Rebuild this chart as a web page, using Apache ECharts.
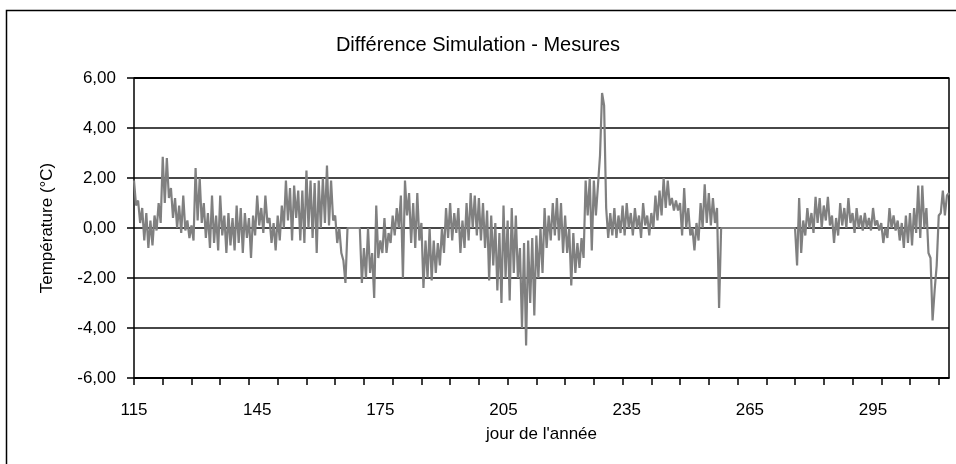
<!DOCTYPE html>
<html>
<head>
<meta charset="utf-8">
<script src="https://cdn.jsdelivr.net/npm/echarts@6/dist/echarts.min.js"></script>
<style>
  html, body { margin: 0; padding: 0; background: #fff; }
  #chart { width: 956px; height: 464px; }
</style>
</head>
<body>
<div id="chart"></div>
<script>
// jour de l'année du premier point, pas de 0,5 jour
const startDay = 115;
const stepDay = 0.5;
const lastDay = 313.5;

// graduations de l'axe des x
const labelDays = [115, 145, 175, 205, 235, 265, 295];
const tickDays = [115, 122, 129, 136, 143, 150, 157, 164, 171, 178, 185, 192, 199, 206, 213,
  220, 227, 234, 241, 248, 255, 262, 269, 276, 283, 290, 297, 304, 311];

// écart simulation - mesures (°C), deux valeurs par jour
const diff = [
  1.9, 0.9, 1.1, 0.2, 0.8, -0.5, 0.6, -0.8, 0.3, -0.7, 0.5, -0.1, 1.0, 0.2, 2.85, 1.0, 2.8, 1.2, 1.6, 0.4,
  1.2, 0.0, 0.9, -0.2, 1.3, -0.1, 0.3, -0.4, 0.1, -0.5, 2.4, 0.3, 2.0, 0.2, 1.0, -0.4, 0.6, -0.8, 1.3, -0.6,
  0.5, -0.9, 1.3, -0.3, 0.5, -1.0, 0.6, -0.7, 0.4, -0.9, 0.9, -0.6, 0.8, -1.0, 0.6, -0.4, 0.4, -1.2, 0.5, -0.3,
  1.3, 0.1, 0.8, -0.2, 1.3, 0.2, 0.4, -0.6, 0.2, -0.9, 0.5, -0.5, 0.9, 0.0, 1.9, 0.3, 1.6, -0.5, 1.7, 0.4,
  1.5, -0.5, 1.5, -0.6, 2.3, 0.0, 1.9, -0.4, 1.8, -1.0, 1.9, 0.0, 2.0, 0.2, 2.5, 0.1, 1.9, 0.3, 0.5, -0.6,
  0.0, -1.0, -1.3, -2.2, 0, 0, 0, 0, 0, 0, 0, -2.2, -0.8, -2.0, 0.0, -1.8, -1.0, -2.8, 0.9, -1.2,
  -0.5, -1.0, 0.4, -1.0, -0.2, -0.6, 0.5, -0.3, 0.8, 0.0, 1.3, -2.0, 1.9, 0.5, 1.4, -0.6, 1.0, -0.8, 1.4, -0.5,
  0.2, -2.4, -0.5, -2.0, 0.0, -2.1, -0.5, -1.8, -0.6, -1.5, 0.0, -1.0, 0.8, -0.4, 1.0, -0.5, 0.6, -0.2, 0.8, -1.0,
  0.3, -0.8, 1.0, -0.5, 1.4, 0.0, 1.3, -0.3, 1.2, -0.5, 1.0, -0.8, 0.7, -2.1, 0.5, -1.5, 0.2, -2.5, -0.2, -3.0,
  0.9, -2.0, 0.3, -2.9, 0.8, -1.8, 0.5, -2.0, -0.8, -4.0, -0.6, -4.7, -0.5, -3.0, -0.4, -3.5, -0.3, -2.0, 0.0, -1.8,
  0.8, -0.8, 0.5, -0.5, 1.0, -0.3, 1.2, -0.5, 1.0, -1.0, 0.5, -1.0, 0.0, -2.3, -0.2, -1.8, -0.6, -1.6, -0.4, -1.2,
  1.9, 0.5, 2.0, -0.9, 1.9, 0.5, 1.7, 2.9, 5.4, 4.9, 0.8, -0.4, 0.6, -0.3, 0.8, -0.4, 0.5, -0.2, 0.9, -0.3,
  1.0, 0.0, 0.6, -0.3, 0.8, 0.0, 0.5, -0.4, 1.0, 0.1, 0.5, -0.3, 0.6, 0.0, 1.3, 0.3, 1.5, 0.5, 2.0, 0.8,
  1.9, 0.9, 1.2, 0.7, 1.1, 0.7, 1.0, -0.3, 1.6, 0.0, 0.8, -0.3, 0.0, -0.9, 0.2, -0.5, 1.0, 0.0, 1.75, 0.2,
  1.4, 0.1, 1.2, 0.2, 0.8, -3.2, 0, 0, 0, 0, 0, 0, 0, 0, 0, 0, 0, 0, 0, 0,
  0, 0, 0, 0, 0, 0, 0, 0, 0, 0, 0, 0, 0, 0, 0, 0, 0, 0, 0, 0,
  0, 0, 0, -1.5, 1.2, -1.0, 0.3, -0.3, 0.8, 0.0, 0.6, -0.2, 1.25, 0.2, 1.2, 0.0, 0.9, 0.3, 1.25, 0.1,
  0.5, -0.6, 0.4, -0.3, 1.0, 0.1, 0.8, 0.0, 1.2, 0.2, 0.6, -0.2, 0.8, 0.0, 0.5, -0.1, 0.6, 0.0, 0.4, -0.1,
  0.8, 0.1, 0.3, -0.1, 0.2, -0.6, 0.0, -0.4, 0.8, 0.0, 0.5, -0.1, 0.3, -0.5, 0.2, -0.8, 0.5, -0.6, 0.6, -0.7,
  0.8, -0.2, 1.7, -0.4, 1.7, 0.0, 0.8, -1.0, -1.2, -3.7, -2.5, -1.5, 0.5, 0.6, 1.5, 0.5, 1.3, 1.4
];

const font = 'Liberation Sans, Arial, sans-serif';
const fmt = (v) => v.toFixed(2).replace('.', ',');

const chart = echarts.init(document.getElementById('chart'), null, { renderer: 'canvas' });

chart.setOption({
  animation: false,
  backgroundColor: '#fff',
  title: {
    text: 'Différence Simulation - Mesures',
    left: 'center',
    top: 30,
    textStyle: { fontFamily: font, fontSize: 20, fontWeight: 'normal', color: '#000' }
  },
  // cadre extérieur, coupé à droite et en bas comme sur l'original
  graphic: [{
    type: 'polyline',
    shape: { points: [[6.5, 1200], [6.5, 10.5], [1200, 10.5]] },
    style: { stroke: '#000', lineWidth: 1.5 },
    silent: true
  }],
  grid: { left: 134, right: 7, top: 78, bottom: 86 },
  xAxis: {
    type: 'value',
    min: startDay, max: lastDay,
    name: "jour de l'année",
    nameLocation: 'middle',
    nameGap: 48,
    nameTextStyle: { fontFamily: font, fontSize: 17, color: '#000' },
    axisLine: { show: true, onZero: false, lineStyle: { color: '#000', width: 1.5 } },
    axisTick: { show: true, length: 7, customValues: tickDays, lineStyle: { color: '#000', width: 1.5 } },
    axisLabel: { fontFamily: font, fontSize: 17, color: '#000', margin: 24, customValues: labelDays },
    splitLine: { show: false }
  },
  yAxis: [
    {
      type: 'value',
      min: -6, max: 6, interval: 2,
      name: 'Température (°C)',
      nameLocation: 'middle',
      nameGap: 78,
      nameTextStyle: { fontFamily: font, fontSize: 17, color: '#000' },
      axisLine: { show: true, onZero: false, lineStyle: { color: '#000', width: 1.5 } },
      axisTick: { show: true, length: 7, lineStyle: { color: '#000', width: 1.5 } },
      axisLabel: { fontFamily: font, fontSize: 17, color: '#000', margin: 18, formatter: fmt },
      splitLine: {
        show: true,
        lineStyle: {
          color: ['#000', '#474747', '#474747', '#474747', '#474747', '#474747', '#000'],
          width: 2
        }
      }
    },
    {
      // bord droit de la zone de tracé
      type: 'value',
      min: -6, max: 6, interval: 2,
      position: 'right',
      axisLine: { show: true, onZero: false, lineStyle: { color: '#000', width: 1.5 } },
      axisTick: { show: false },
      axisLabel: { show: false },
      splitLine: { show: false }
    }
  ],
  series: [{
    type: 'line',
    data: diff.map((v, i) => [startDay + i * stepDay, v]),
    showSymbol: false,
    lineStyle: { color: '#808080', width: 2.2 },
    emphasis: { disabled: true }
  }]
});
</script>
</body>
</html>
